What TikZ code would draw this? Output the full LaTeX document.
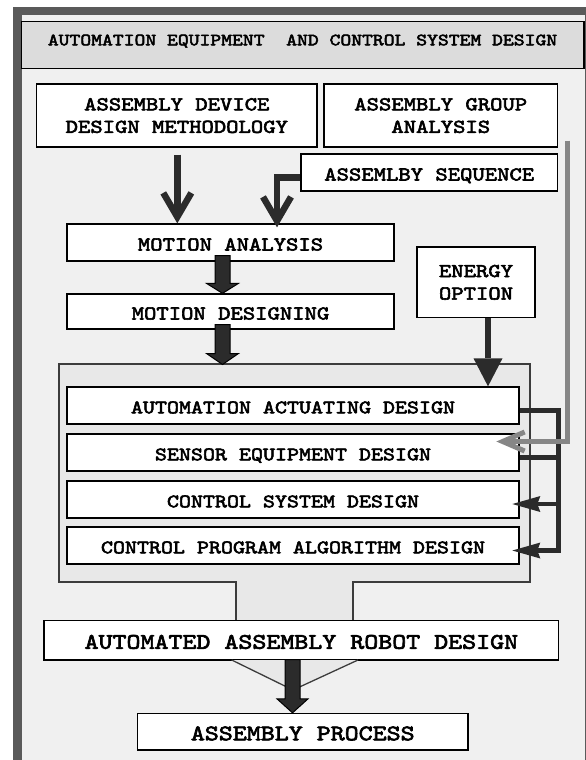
\documentclass[tikz,border=0pt]{standalone}
\usepackage{fontspec}
\setmonofont{lmmono10-regular.otf}[FakeBold=3,FakeStretch=1.2]
\usetikzlibrary{arrows.meta,calc}
\definecolor{framegray}{HTML}{5A5A5A}
\definecolor{bgfill}{HTML}{F0F0F0}
\definecolor{hdrfill}{HTML}{DCDCDC}
\definecolor{grpfill}{HTML}{E8E8E8}
\definecolor{grpline}{HTML}{3C3C3C}
\definecolor{arrdark}{HTML}{2B2B2B}
\definecolor{arrgray}{HTML}{868686}
\newcommand{\dgBoxFont}{\ttfamily\fontsize{19.6}{22.5}\selectfont}
\newcommand{\dgInFont}{\ttfamily\fontsize{19.05}{22}\selectfont}
\newcommand{\dgBigFont}{\ttfamily\fontsize{22.2}{26}\selectfont}
\newcommand{\dgHdrFont}{\ttfamily\fontsize{17.2}{20}\selectfont}
% block arrow: start, tip, head length, head half width
\newcommand{\dgBlockArrow}[4]{%
  \filldraw[blockarr] let \p1=#1, \p2=#2 in
    (\x1-7.5pt,\y1) -- (\x1+7.5pt,\y1) -- (\x1+7.5pt,\y2+#3pt) -- (\x1+#4pt,\y2+#3pt)
    -- (\x1,\y2) -- (\x1-#4pt,\y2+#3pt) -- (\x1-7.5pt,\y2+#3pt) -- cycle;}
\begin{document}
\begin{tikzpicture}[x=1pt,y=-1pt,line join=miter,
  box/.style={draw=black,line width=1.3pt,fill=white,inner sep=0pt,align=center,font=\dgBoxFont},
  inbox/.style={box,font=\dgInFont},
  bigbox/.style={box,font=\dgBigFont},
  sgl/.style={text height=16pt,text depth=0pt},
  sglin/.style={text height=15.6pt,text depth=0pt},
  sglbig/.style={text height=17pt,text depth=0pt},
  dbl/.style={text depth=0pt},
  blockarr/.style={fill=arrdark,draw=black,line width=1pt},
  thinarr/.style={draw=arrdark,line width=6.5pt,-{Straight Barb[length=24pt,width=28pt]}},
  eoarr/.style={draw=arrdark,line width=5.7pt,-{Triangle[length=28pt,width=29pt,line width=0pt 0 0]}},
  fbline/.style={draw=arrdark,line width=4.5pt},
  fbarr/.style={fbline,-{Stealth[length=28pt,width=16pt,inset=3pt,line width=0pt 0 0]}},
  grayarr/.style={draw=arrgray,line width=5pt,-{Straight Barb[length=22pt,width=19pt]}}
]
\useasboundingbox (0,0) rectangle (586,760);
% outer frame
\draw[line width=8.5pt,draw=framegray,fill=bgfill] (17.3,10.8) rectangle (589.5,775);
% header
\draw[line width=1.2pt,fill=hdrfill] (21.7,21.7) rectangle (584,68.3);
\node[font=\dgHdrFont,anchor=base,inner sep=0pt] (hdr) at (302.5,45.3) {AUTOMATION EQUIPMENT\ \ AND CONTROL SYSTEM DESIGN};
% top boxes
\node[box,dbl,minimum width=280.4pt,minimum height=63pt] (addm) at (176.8,115.5) {ASSEMBLY DEVICE\\DESIGN METHODOLOGY};
\node[box,dbl,minimum width=233.5pt,minimum height=63pt] (aga) at (440.75,115.5) {ASSEMBLY GROUP\\ANALYSIS};
\node[box,sgl,minimum width=256.5pt,minimum height=37pt] (as) at (429.25,172.5) {ASSEMLBY SEQUENCE};
\node[box,sgl,minimum width=327pt,minimum height=37pt] (ma) at (230.5,242.5) {MOTION ANALYSIS};
\node[box,sgl,minimum width=327pt,minimum height=35pt] (md) at (230.5,311.5) {MOTION DESIGNING};
\node[box,dbl,minimum width=118pt,minimum height=70.3pt] (eo) at (476,282.2) {ENERGY\\OPTION};
% group area
\filldraw[fill=grpfill,draw=grpline,line width=2pt]
  (58.7,364) -- (530,364) -- (530,581.5) -- (353.3,581.5) -- (353.3,621)
  -- (235.7,621) -- (235.7,581.5) -- (58.7,581.5) -- cycle;
\coordinate (grpN) at (222.5,364.5);
\node[inbox,sglin,minimum width=452pt,minimum height=37pt] (aad) at (293,405.5) {AUTOMATION ACTUATING DESIGN};
\node[inbox,sglin,minimum width=452pt,minimum height=37pt] (sed) at (293,452.5) {SENSOR EQUIPMENT DESIGN};
\node[inbox,sglin,minimum width=452pt,minimum height=37pt] (csd) at (293,499.5) {CONTROL SYSTEM DESIGN};
\node[inbox,sglin,minimum width=452pt,minimum height=37pt] (cpad) at (293,545.5) {CONTROL PROGRAM ALGORITHM DESIGN};
% bottom
\node[bigbox,sglbig,minimum width=514.7pt,minimum height=39.5pt] (aard) at (301.35,640.25) {AUTOMATED ASSEMBLY ROBOT DESIGN};
\fill[grpfill] (231.7,660) -- (293,690) -- (358,660) -- cycle;
\draw[grpline,line width=1.3pt] (231.7,660) -- (293,690) -- (358,660);
\node[bigbox,sglbig,minimum width=330.5pt,minimum height=36.5pt] (ap) at (302.75,731.75) {ASSEMBLY PROCESS};
% connectors
\coordinate (a1) at ($(addm.south)+(0.5,7)$);
\draw[thinarr] (a1) -- (a1 |- ma.north);
\draw[thinarr] ($(as.west)+(0,5)$) -| ($(ma.north)+(46.5,4)$);
\dgBlockArrow{($(ma.south)+(-8,-6)$)}{($(md.north)+(-8,0)$)}{10}{16}
\dgBlockArrow{($(md.south)+(-8,-5)$)}{(grpN)}{11}{16}
\coordinate (e1) at ($(eo.south)+(12,0)$);
\draw[eoarr] (e1) -- (e1 |- aad.north);
\draw[fbarr] ($(aad.east)+(0,5)$) -| ($(cpad.east)+(39,5)$) -- ($(cpad.east)+(-7.3,5)$);
\draw[fbline] ($(sed.east)+(0,5)$) -- ++(39,0);
\draw[fbarr] ($(csd.east)+(39,4.5)$) -- ($(csd.east)+(-7.3,4.5)$);
\coordinate (g1) at ($(aga.south east)+(9,-7)$);
\draw[grayarr] (g1) |- ($(sed.east)+(-23.3,-11)$);
\dgBlockArrow{($(aard.south)+(-8.85,-1)$)}{($(ap.north)+(-10.25,0)$)}{14}{15.5}
\end{tikzpicture}
\end{document}
